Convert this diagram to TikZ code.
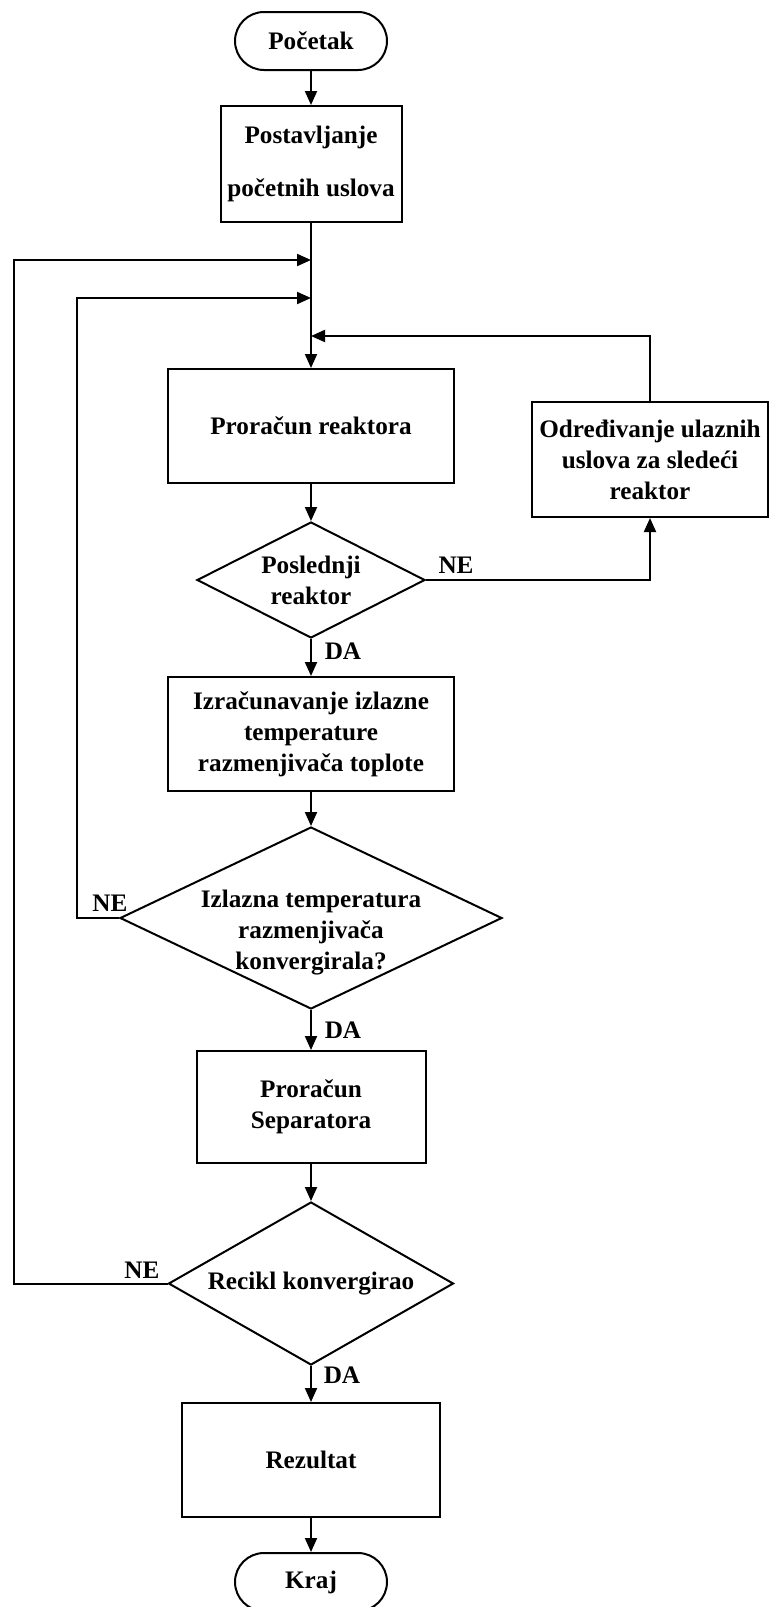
\documentclass[tikz,border=0pt]{standalone}
\usepackage{fontspec}
\setmainfont{Liberation Serif}
\usetikzlibrary{shapes.geometric,arrows.meta}

\tikzset{
  flow/.style={line width=1pt, -{Triangle[length=7pt,width=6pt]}},
  proc/.style 2 args={draw, line width=1pt, minimum width=#1, minimum height=#2, inner sep=0pt, align=center},
  term/.style={draw, line width=1pt, minimum width=76pt, minimum height=29pt, rounded corners=14.5pt, inner sep=0pt},
  cond/.style 2 args={draw, diamond, line width=1pt, minimum width=#1, minimum height=#2, inner sep=0pt},
  ctext/.style={align=center, inner sep=0pt},
  tag/.style={inner sep=0pt},
}

\begin{document}
\begin{tikzpicture}[x=0.5pt,y=-0.5pt,font=\fontsize{12.6}{15.5}\selectfont\bfseries]
\useasboundingbox (0,0) rectangle (769,1607);

% main column
\node[term] (start) at (311,41) {Početak};
\node[proc={90.5pt}{58pt}] (init) at (311,164) {Postavljanje\\[11pt]početnih uslova};
\node[proc={143pt}{57pt}] (reac) at (311,426) {Proračun reaktora};
\node[proc={118pt}{57.5pt}] (next) at (650,459.5) {Određivanje ulaznih\\uslova za sledeći\\reaktor};
\node[cond={114pt}{58pt}] (dec1) at (311,580) {};
\node[ctext] (dec1txt) at (dec1) {Poslednji\\reaktor};
\node[proc={143pt}{57pt}] (heat) at (311,734) {Izračunavanje izlazne\\temperature\\razmenjivača toplote};
\node[cond={191pt}{91pt}] (dec2) at (311,918) {};
\node[ctext] (dec2txt) at (311,933) {Izlazna temperatura\\razmenjivača\\konvergirala?};
\node[proc={114.5pt}{56pt}] (sep) at (311,1107) {Proračun\\Separatora};
\node[cond={142.5pt}{81.5pt}] (dec3) at (311,1283.5) {};
\node[ctext] (dec3txt) at (dec3) {Recikl konvergirao};
\node[proc={129pt}{57pt}] (res) at (311,1460) {Rezultat};
\node[term] (kraj) at (311,1582) {Kraj};

% branch labels
\node[tag] (ne1) at (456,565) {NE};
\node[tag] (da1) at (343,651) {DA};
\node[tag] (ne2) at (110,903) {NE};
\node[tag] (da2) at (343,1030) {DA};
\node[tag] (ne3) at (142,1270) {NE};
\node[tag] (da3) at (342,1375) {DA};

% junctions on the main line and loop corners
\coordinate (j1) at (311,260);
\coordinate (j2) at (311,298);
\coordinate (j3) at (311,336);
\coordinate (loopA) at (14,260);
\coordinate (loopB) at (77,298);

\draw[flow] (start) -- (init);
\draw[flow] (init) -- (reac);
\draw[flow] (reac) -- (dec1);
\draw[flow] (dec1) -- (heat);
\draw[flow] (heat) -- (dec2);
\draw[flow] (dec2) -- (sep);
\draw[flow] (sep) -- (dec3);
\draw[flow] (dec3) -- (res);
\draw[flow] (res) -- (kraj);

% feedback loops
\draw[flow] (dec1.east) -| (next.south);
\draw[flow] (next.north) |- (j3);
\draw[flow] (dec2.west) -| (loopB) -- (j2);
\draw[flow] (dec3.west) -| (loopA) -- (j1);
\end{tikzpicture}
\end{document}
